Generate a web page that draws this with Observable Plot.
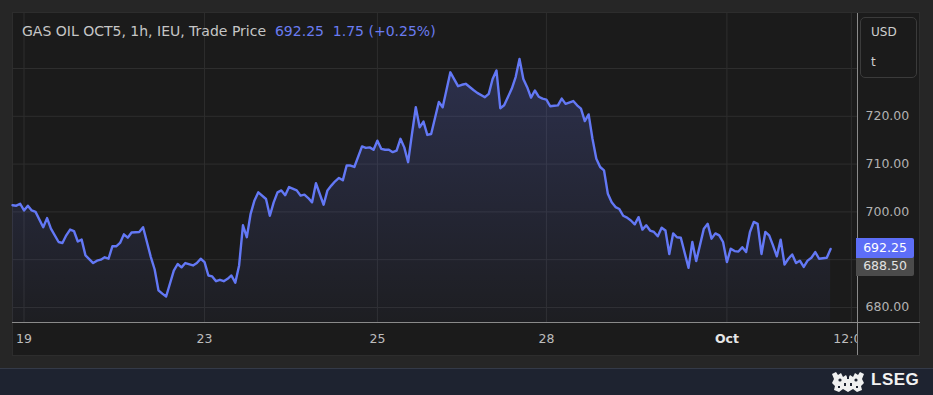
<!DOCTYPE html>
<html><head><meta charset="utf-8">
<script src="https://cdn.jsdelivr.net/npm/d3@7"></script>
<script src="https://cdn.jsdelivr.net/npm/@observablehq/plot@0.6"></script>
<style>
html,body{margin:0;padding:0;background:#262626;}
#wrap{position:relative;width:933px;height:395px;overflow:hidden;background:#262626;font-family:"DejaVu Sans","Liberation Sans",Arial,sans-serif;}
#panel{position:absolute;left:12px;top:12px;width:908px;height:344px;background:#1b1b1b;border:1px solid #2d2d2d;box-sizing:border-box;}
#footer{position:absolute;left:0;top:368px;width:933px;height:27px;background:#1e2330;border-top:1px solid #343a48;box-sizing:border-box;}
#chart{position:absolute;left:0;top:0;}
#pane{position:absolute;left:857px;top:323px;width:62px;height:32px;background:#1b1b1b;}
.hline{position:absolute;height:1px;background:#8a8a8a;}
.vline{position:absolute;width:1px;background:#8a8a8a;}
#title{position:absolute;left:22px;top:23px;font-size:14px;color:#c6c6c6;white-space:pre;}
#title .v{color:#6a7cf0;}
#unit{position:absolute;left:860px;top:17px;width:57px;height:61px;border:1px solid #3b3b3b;border-radius:5px;box-sizing:border-box;color:#cfcfcf;font-size:12px;}
#unit div{position:absolute;left:10px;}
.plabel{position:absolute;left:856px;width:58px;height:20px;line-height:20px;font-size:12.5px;text-align:center;border-radius:0 2px 2px 0;}
#lseg{position:absolute;left:871px;top:370px;font-size:17px;font-weight:bold;color:#f2f2f2;font-family:"Liberation Sans",Arial,sans-serif;letter-spacing:0.5px;}
#logo{position:absolute;left:829px;top:371px;}
</style></head>
<body>
<div id="wrap">
  <div id="panel"></div>
  <div id="footer"></div>
  <div id="chart"></div>
  <div id="pane"></div>
  <div class="hline" style="left:12px;top:322px;width:908px;"></div>
  <div class="vline" style="left:857px;top:13px;height:342px;"></div>
  <div id="title">GAS OIL OCT5, 1h, IEU, Trade Price  <span class="v">692.25  1.75 (+0.25%)</span></div>
  <div id="unit"><div style="top:7px">USD</div><div style="top:37px">t</div></div>
  <svg id="logo" width="38" height="22" viewBox="0 0 38 22">
    <g fill="#f0f0f0">
      <path d="M3 3 L7 1 L9 4 L12 2 L14 6 L17 4 L19 8 L21 4 L24 6 L26 2 L29 4 L31 1 L35 3 L33 8 L35 12 L32 15 L33 19 L28 21 L24 18 L19 21 L14 18 L10 21 L5 19 L6 15 L3 12 L5 8 Z"/>
    </g>
    <g fill="#1e2330">
      <circle cx="11" cy="9" r="1.6"/><circle cx="27" cy="9" r="1.6"/>
      <rect x="15" y="12" width="2" height="3"/><rect x="21" y="12" width="2" height="3"/>
      <rect x="9" y="15" width="2" height="2"/><rect x="27" y="15" width="2" height="2"/>
      <rect x="18" y="6" width="2" height="2"/>
    </g>
  </svg>
  <div id="lseg">LSEG</div>
</div>
<script>
// Trading-hour index (hourly bars, weekends skipped) and price (USD/t)
const hours = [0,1,2,3,4,5,6,8,9,10,12,13,14,15,16,17,18,19,21,22,23,24,25,26,27,28,29,30,31,33,34,36,37,38,39,40,42,43,44,45,47,48,49,50,51,52,53,54,55,56,57,58,59,60,61,62,63,64,66,67,68,69,70,71,72,74,75,76,77,78,79,81,82,83,84,85,86,87,88,89,91,92,93,94,95,96,97,98,99,100,101,102,103,104,105,106,107,108,109,111,112,114,116,117,118,120,121,123,124,125,126,127,128,130,131,132,133,134,135,136,137,138,139,140,141,142,143,144,146,147,148,149,150,151,152,153,154,155,156,157,158,159,160,161,162,163,164,165,166,167,168,169,170,171,172,173,174,176,177,178,180,181,182,183,184,185,186,187,188,189,190,191,192,193,194,195,196,197,198,199,200,201,202,203,204,205,206,207,208,209,210,212,213];
const prices = [701.4,701.3,701.7,700.3,701.3,700.3,700.0,696.8,698.7,696.5,693.7,693.5,695.1,696.3,696.0,693.8,694.2,690.9,689.3,689.8,690.0,690.5,690.2,692.8,692.8,693.5,695.3,694.6,695.7,695.8,696.8,690.6,688.0,683.6,682.9,682.3,687.7,689.1,688.4,689.3,688.8,689.3,690.2,689.5,686.7,686.5,685.5,685.8,685.5,686.0,686.7,685.2,688.8,697.2,694.7,699.6,702.4,704.1,702.7,699.2,702.0,704.1,704.5,703.5,705.2,704.5,703.4,703.6,702.9,702.0,706.0,701.5,704.5,705.5,706.4,707.1,706.6,709.7,709.7,709.4,713.7,713.4,713.5,713.0,714.9,713.2,713.0,713.0,712.5,712.8,715.3,713.5,710.4,716.3,721.9,717.7,718.9,716.1,716.3,723.0,721.9,729.2,726.3,726.6,726.8,725.5,724.9,724.0,724.7,727.8,729.6,721.7,722.3,725.8,728.2,732.0,727.8,726.1,723.9,725.4,724.1,723.7,723.5,722.1,722.2,722.3,723.7,722.6,723.2,722.3,721.6,719.0,720.4,715.3,711.1,709.4,708.7,703.8,702.0,701.0,700.6,699.2,698.8,698.2,697.4,698.9,696.3,697.2,696.1,695.8,694.9,696.7,696.1,691.2,695.5,694.7,694.6,688.3,693.7,689.7,696.5,697.5,694.4,695.5,695.1,693.7,689.5,692.3,691.8,691.7,692.6,691.6,695.8,697.9,697.5,691.2,695.8,695.1,693.0,690.7,694.2,689.0,690.2,691.1,689.3,689.8,688.5,689.8,690.4,691.6,690.2,690.4,692.25];

const tickHours = [3, 50, 95, 139, 186, 218.4];
const tickLabels = ["19", "23", "25", "28", "Oct", "12:00"];
const gridPrices = [680, 690, 700, 710, 720, 730];
const labeledPrices = [680, 700, 710, 720];
const lastPrice = 692.25;
const refPrice = 688.50;

const data = hours.map((h, i) => ({h, p: prices[i]}));
const yDomain = [676.86, 741.51];
const labelOf = new Map(tickHours.map((t, i) => [t, tickLabels[i]]));
const FONT = "'DejaVu Sans', 'Liberation Sans', Arial, sans-serif";

const defs = () => {
  const d = d3.create("svg:defs");
  const g = d.append("linearGradient").attr("id", "areaGrad").attr("x1", 0).attr("y1", 0).attr("x2", 0).attr("y2", 1);
  g.append("stop").attr("offset", "0%").attr("stop-color", "#6a7cff").attr("stop-opacity", 0.22);
  g.append("stop").attr("offset", "100%").attr("stop-color", "#6a7cff").attr("stop-opacity", 0.03);
  return d.node();
};

const plot = Plot.plot({
  width: 933, height: 395,
  marginLeft: 12, marginRight: 76, marginTop: 13, marginBottom: 73,
  style: {background: "transparent", fontFamily: FONT, fontSize: "12.5px", overflow: "visible"},
  x: {domain: [0, 220], axis: null, label: null},
  y: {domain: yDomain, axis: null, label: null},
  marks: [
    defs,
    Plot.ruleY(gridPrices, {stroke: "#2e2e2e", strokeWidth: 1}),
    Plot.ruleX(tickHours, {stroke: "#2e2e2e", strokeWidth: 1}),
    Plot.area(data, {x1: "h", y1: yDomain[0], y2: "p", fill: "url(#areaGrad)"}),
    Plot.line(data, {x: "h", y: "p", stroke: "#6378f5", strokeWidth: 2.4, curve: "linear"}),
    Plot.axisY(labeledPrices, {anchor: "right", label: null, tickSize: 0, tickPadding: 8, tickFormat: d => d.toFixed(2), fill: "#b2b2b2", fontSize: 12.5}),
    Plot.axisX(tickHours.filter(t => labelOf.get(t) !== "Oct"), {anchor: "bottom", label: null, tickSize: 0, tickPadding: 12, tickFormat: d => labelOf.get(d), fill: "#bdbdbd", fontSize: 12.5}),
    Plot.axisX(tickHours.filter(t => labelOf.get(t) === "Oct"), {anchor: "bottom", label: null, tickSize: 0, tickPadding: 12, tickFormat: d => labelOf.get(d), fill: "#e6e6e6", fontSize: 12.5, fontWeight: "bold"})
  ]
});
document.getElementById("chart").appendChild(plot);

const ys = plot.scale("y");
const wrap = document.getElementById("wrap");
function addLabel(v, bg, fg) {
  const el = document.createElement("div");
  el.className = "plabel";
  el.style.top = (ys.apply(v) - 10) + "px";
  el.style.background = bg;
  el.style.color = fg;
  el.textContent = v.toFixed(2);
  wrap.appendChild(el);
}
addLabel(refPrice, "#4b4b4b", "#e2e2e2");
addLabel(lastPrice, "#5d6ef7", "#ffffff");
</script>
</body></html>
